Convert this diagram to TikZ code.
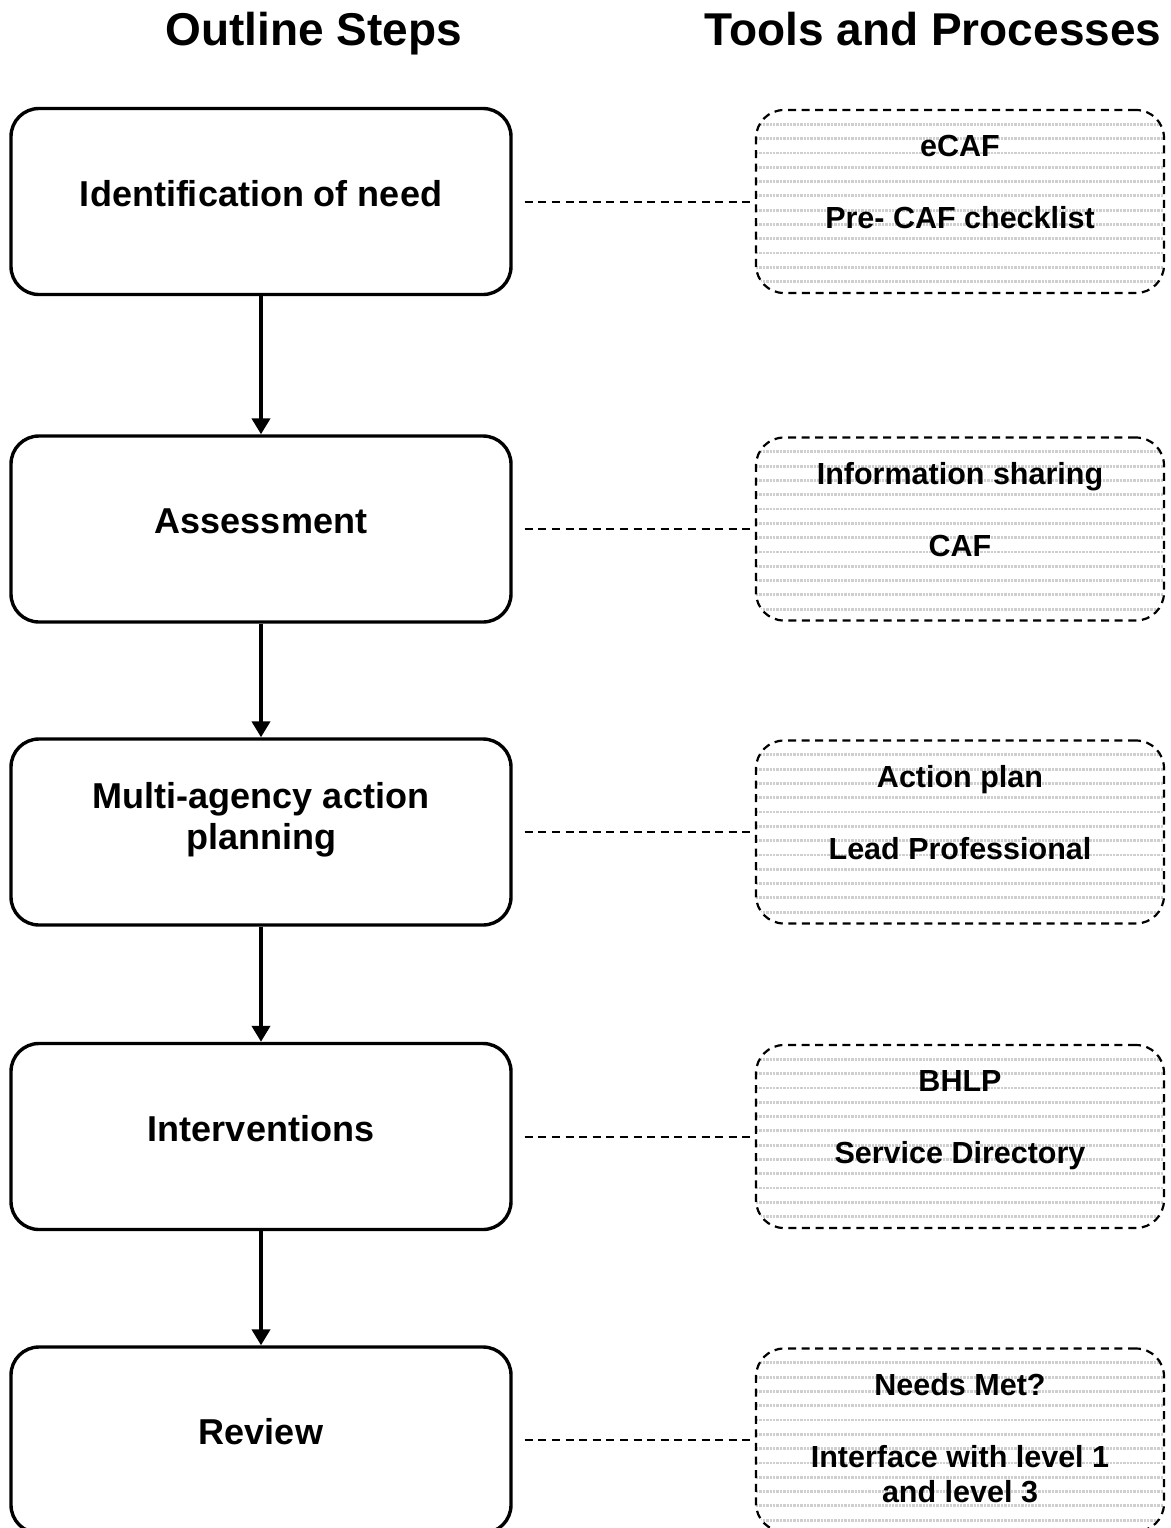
\documentclass[tikz,border=0pt]{standalone}
\usepackage{fontspec}
\setmainfont{Liberation Sans}
\usetikzlibrary{arrows.meta,positioning}

\tikzset{
	headtext/.style={anchor=base, inner sep=0pt},
	stepbox/.style={draw, line width=1.7pt, rounded corners=14pt, minimum width=250pt, minimum height=93pt},
	steptext/.style={align=center, inner sep=0pt, yshift=4pt},
	hatchline/.style={gray!38, line width=1.4pt, dash pattern=on 1.2pt off 0.5pt},
	toolbox/.style={draw, line width=1.1pt, dash pattern=on 4pt off 2.8pt, rounded corners=14pt,
		minimum width=204pt, minimum height=91.5pt,
		path picture={\foreach \row in {1,...,12}
			\draw[hatchline] ([yshift=-\row*7.15pt]path picture bounding box.north west) -- ([yshift=-\row*7.15pt]path picture bounding box.north east);}},
	tooltext/.style={align=center, inner sep=0pt},
	steparrow/.style={-{Triangle[length=8pt,width=9pt]}, line width=2.2pt},
	linkline/.style={line width=1pt, dash pattern=on 4pt off 2.8pt, shorten <=6pt}
}

\begin{document}
\begin{tikzpicture}[x=0.5pt,y=-0.5pt]
		\newcommand*{\headFont}{\bfseries\fontsize{23}{27}\selectfont}
		\newcommand*{\stepFont}{\bfseries\fontsize{18}{20.5}\selectfont}
		\newcommand*{\toolFont}{\bfseries\fontsize{15.25}{17.5}\selectfont}
		\newcommand*{\toolGap}{18.5pt}
		\newcommand*{\belowTop}{13pt}

		\useasboundingbox (0,0) rectangle (1171,1528);

		\coordinate(H1) at	(314,45);
		\coordinate(H2) at	(933,45);
		\coordinate(S1) at	(261,201.5);
		\coordinate(S2) at	(261,529);
		\coordinate(S3) at	(261,832);
		\coordinate(S4) at	(261,1136.5);
		\coordinate(S5) at	(261,1440);
		\coordinate(T1) at	(960,201.5);
		\coordinate(T2) at	(960,529);
		\coordinate(T3) at	(960,832);
		\coordinate(T4) at	(960,1136.5);
		\coordinate(T5) at	(960,1440);

		\node(headSteps) at (H1)[headtext, font=\headFont]{Outline Steps};
		\node(headTools) at (H2)[headtext, font=\headFont]{Tools and Processes};

		\node(step1) at (S1)[stepbox]{};
		\node(step2) at (S2)[stepbox]{};
		\node(step3) at (S3)[stepbox]{};
		\node(step4) at (S4)[stepbox]{};
		\node(step5) at (S5)[stepbox]{};

		\node(stepText1) at (S1)[steptext, font=\stepFont]{Identification of need};
		\node(stepText2) at (S2)[steptext, font=\stepFont]{Assessment};
		\node(stepText3) at (S3)[steptext, font=\stepFont, yshift=2pt]{Multi-agency action\\planning};
		\node(stepText4) at (S4)[steptext, font=\stepFont]{Interventions};
		\node(stepText5) at (S5)[steptext, font=\stepFont]{Review};

		\node(tool1) at (T1)[toolbox]{};
		\node(tool2) at (T2)[toolbox]{};
		\node(tool3) at (T3)[toolbox]{};
		\node(tool4) at (T4)[toolbox]{};
		\node(tool5) at (T5)[toolbox]{};

		\node(toolText1)[tooltext, font=\toolFont, below=\belowTop of tool1.north]{eCAF\\[\toolGap]Pre- CAF checklist};
		\node(toolText2)[tooltext, font=\toolFont, below=\belowTop of tool2.north]{Information sharing\\[\toolGap]CAF};
		\node(toolText3)[tooltext, font=\toolFont, below=\belowTop of tool3.north]{Action plan\\[\toolGap]Lead Professional};
		\node(toolText4)[tooltext, font=\toolFont, below=\belowTop of tool4.north]{BHLP\\[\toolGap]Service Directory};
		\node(toolText5)[tooltext, font=\toolFont, below=\belowTop of tool5.north]{Needs Met?\\[\toolGap]Interface with level 1\\and level 3};

		\draw[steparrow] (step1) -- (step2);
		\draw[steparrow] (step2) -- (step3);
		\draw[steparrow] (step3) -- (step4);
		\draw[steparrow] (step4) -- (step5);

		\draw[linkline] (step1) -- (tool1);
		\draw[linkline] (step2) -- (tool2);
		\draw[linkline] (step3) -- (tool3);
		\draw[linkline] (step4) -- (tool4);
		\draw[linkline] (step5) -- (tool5);
\end{tikzpicture}
\end{document}
